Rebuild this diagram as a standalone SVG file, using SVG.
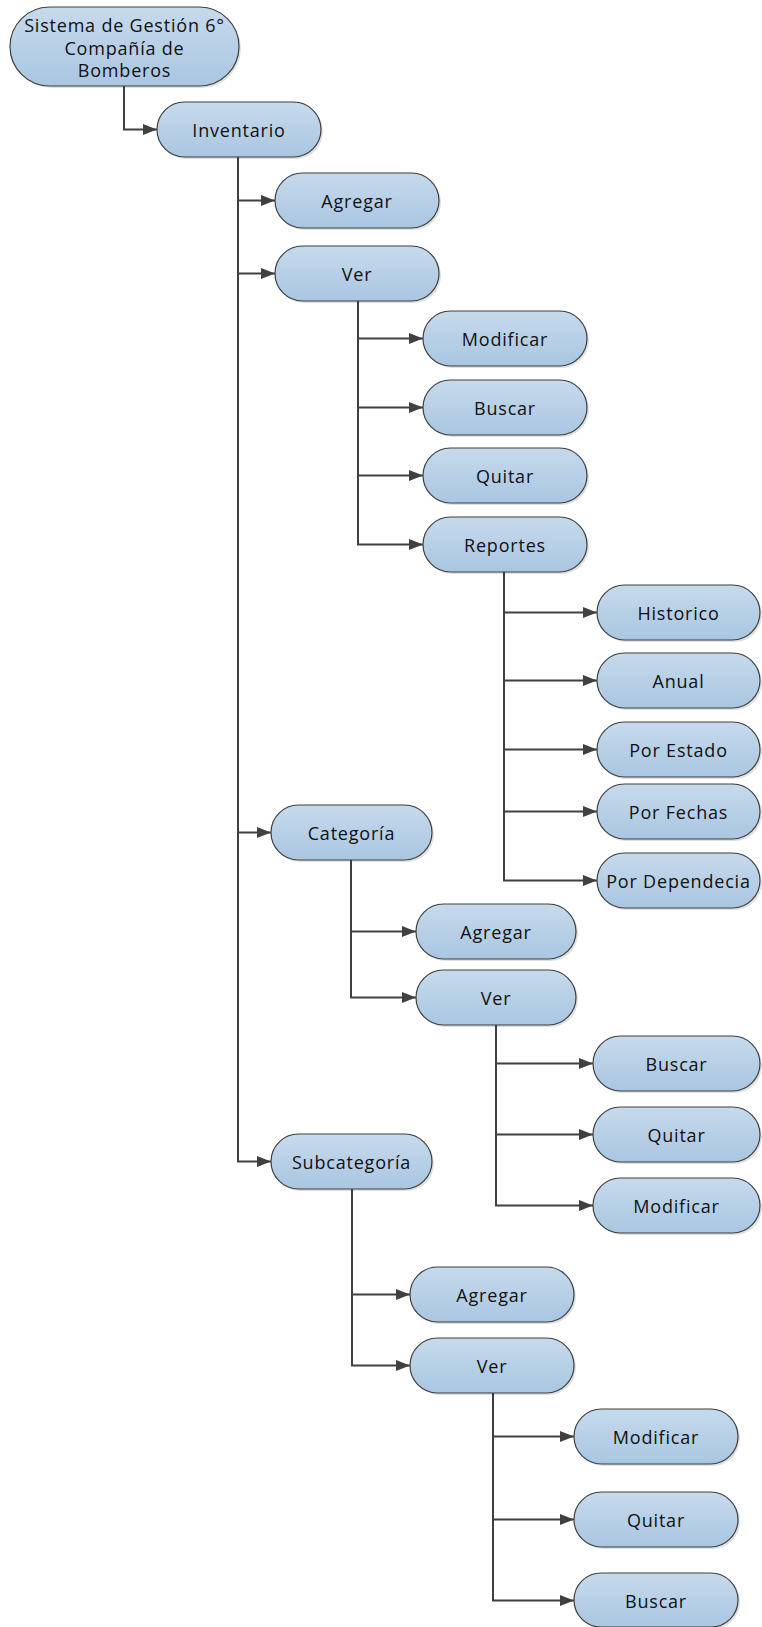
<svg xmlns="http://www.w3.org/2000/svg" width="762" height="1627" viewBox="0 0 762 1627">
<style>
.n{fill:url(#g);stroke:#3f3f3f;stroke-width:1.2}
.s{fill:#000;opacity:0.12}
.t{font-family:"Open Sans","Noto Sans","Liberation Sans",sans-serif;font-size:18px;letter-spacing:0.8px;fill:#111;text-anchor:middle;dominant-baseline:central}
.c{fill:none;stroke:#404040;stroke-width:2;marker-end:url(#a)}
</style>
<defs>
<linearGradient id="g" x1="0" y1="0" x2="0" y2="1">
<stop offset="0" stop-color="#c6daec"/>
<stop offset="1" stop-color="#a9c6e1"/>
</linearGradient>
<marker id="a" viewBox="0 0 14 11" refX="14" refY="5.5" markerWidth="14" markerHeight="11" markerUnits="userSpaceOnUse" orient="auto">
<path d="M0,0 L14,5.5 L0,11 z" fill="#404040"/>
</marker>
</defs>
<g id="connectors">
<path class="c" d="M124,86 V129.5 H157"/>
<path class="c" d="M238,157 V200.5 H275"/>
<path class="c" d="M238,157 V273.5 H275"/>
<path class="c" d="M238,157 V832.5 H271"/>
<path class="c" d="M238,157 V1161.5 H271"/>
<path class="c" d="M358,301 V338.5 H423"/>
<path class="c" d="M358,301 V407.5 H423"/>
<path class="c" d="M358,301 V475.5 H423"/>
<path class="c" d="M358,301 V544.5 H423"/>
<path class="c" d="M504,572 V612.5 H597"/>
<path class="c" d="M504,572 V680.5 H597"/>
<path class="c" d="M504,572 V749.5 H597"/>
<path class="c" d="M504,572 V811.5 H597"/>
<path class="c" d="M504,572 V880.5 H597"/>
<path class="c" d="M351,860 V931.5 H416"/>
<path class="c" d="M351,860 V997.5 H416"/>
<path class="c" d="M496,1025 V1063.5 H593"/>
<path class="c" d="M496,1025 V1134.5 H593"/>
<path class="c" d="M496,1025 V1205.5 H593"/>
<path class="c" d="M352,1189 V1294.5 H410"/>
<path class="c" d="M352,1189 V1365.5 H410"/>
<path class="c" d="M493,1393 V1436.5 H574"/>
<path class="c" d="M493,1393 V1519.5 H574"/>
<path class="c" d="M493,1393 V1600.5 H574"/>
</g>
<g id="root"><rect class="s" x="12" y="9" width="229" height="79" rx="39.5"/><rect class="n" x="10" y="7" width="229" height="79" rx="39.5"/><text class="t" x="124.5" y="25">Sistema de Gestión 6°</text><text class="t" x="124.5" y="47.5">Compañía de</text><text class="t" x="124.5" y="70">Bomberos</text></g>
<g id="inventario"><rect class="s" x="159" y="104" width="164" height="55" rx="27.5"/><rect class="n" x="157" y="102" width="164" height="55" rx="27.5"/><text class="t" x="239" y="129.5">Inventario</text></g>
<g id="inv-agregar"><rect class="s" x="277" y="175" width="164" height="55" rx="27.5"/><rect class="n" x="275" y="173" width="164" height="55" rx="27.5"/><text class="t" x="357" y="200.5">Agregar</text></g>
<g id="inv-ver"><rect class="s" x="277" y="248" width="164" height="55" rx="27.5"/><rect class="n" x="275" y="246" width="164" height="55" rx="27.5"/><text class="t" x="357" y="273.5">Ver</text></g>
<g id="inv-modificar"><rect class="s" x="425" y="313" width="164" height="55" rx="27.5"/><rect class="n" x="423" y="311" width="164" height="55" rx="27.5"/><text class="t" x="505" y="338.5">Modificar</text></g>
<g id="inv-buscar"><rect class="s" x="425" y="382" width="164" height="55" rx="27.5"/><rect class="n" x="423" y="380" width="164" height="55" rx="27.5"/><text class="t" x="505" y="407.5">Buscar</text></g>
<g id="inv-quitar"><rect class="s" x="425" y="450" width="164" height="55" rx="27.5"/><rect class="n" x="423" y="448" width="164" height="55" rx="27.5"/><text class="t" x="505" y="475.5">Quitar</text></g>
<g id="reportes"><rect class="s" x="425" y="519" width="164" height="55" rx="27.5"/><rect class="n" x="423" y="517" width="164" height="55" rx="27.5"/><text class="t" x="505" y="544.5">Reportes</text></g>
<g id="historico"><rect class="s" x="599" y="587" width="163" height="55" rx="27.5"/><rect class="n" x="597" y="585" width="163" height="55" rx="27.5"/><text class="t" x="678.5" y="612.5">Historico</text></g>
<g id="anual"><rect class="s" x="599" y="655" width="163" height="55" rx="27.5"/><rect class="n" x="597" y="653" width="163" height="55" rx="27.5"/><text class="t" x="678.5" y="680.5">Anual</text></g>
<g id="por-estado"><rect class="s" x="599" y="724" width="163" height="55" rx="27.5"/><rect class="n" x="597" y="722" width="163" height="55" rx="27.5"/><text class="t" x="678.5" y="749.5">Por Estado</text></g>
<g id="por-fechas"><rect class="s" x="599" y="786" width="163" height="55" rx="27.5"/><rect class="n" x="597" y="784" width="163" height="55" rx="27.5"/><text class="t" x="678.5" y="811.5">Por Fechas</text></g>
<g id="por-dependecia"><rect class="s" x="599" y="855" width="163" height="55" rx="27.5"/><rect class="n" x="597" y="853" width="163" height="55" rx="27.5"/><text class="t" x="678.5" y="880.5">Por Dependecia</text></g>
<g id="categoria"><rect class="s" x="273" y="807" width="161" height="55" rx="27.5"/><rect class="n" x="271" y="805" width="161" height="55" rx="27.5"/><text class="t" x="351.5" y="832.5">Categoría</text></g>
<g id="cat-agregar"><rect class="s" x="418" y="906" width="160" height="55" rx="27.5"/><rect class="n" x="416" y="904" width="160" height="55" rx="27.5"/><text class="t" x="496" y="931.5">Agregar</text></g>
<g id="cat-ver"><rect class="s" x="418" y="972" width="160" height="55" rx="27.5"/><rect class="n" x="416" y="970" width="160" height="55" rx="27.5"/><text class="t" x="496" y="997.5">Ver</text></g>
<g id="cat-buscar"><rect class="s" x="595" y="1038" width="167" height="55" rx="27.5"/><rect class="n" x="593" y="1036" width="167" height="55" rx="27.5"/><text class="t" x="676.5" y="1063.5">Buscar</text></g>
<g id="cat-quitar"><rect class="s" x="595" y="1109" width="167" height="55" rx="27.5"/><rect class="n" x="593" y="1107" width="167" height="55" rx="27.5"/><text class="t" x="676.5" y="1134.5">Quitar</text></g>
<g id="cat-modificar"><rect class="s" x="595" y="1180" width="167" height="55" rx="27.5"/><rect class="n" x="593" y="1178" width="167" height="55" rx="27.5"/><text class="t" x="676.5" y="1205.5">Modificar</text></g>
<g id="subcategoria"><rect class="s" x="273" y="1136" width="161" height="55" rx="27.5"/><rect class="n" x="271" y="1134" width="161" height="55" rx="27.5"/><text class="t" x="351.5" y="1161.5">Subcategoría</text></g>
<g id="sub-agregar"><rect class="s" x="412" y="1269" width="164" height="55" rx="27.5"/><rect class="n" x="410" y="1267" width="164" height="55" rx="27.5"/><text class="t" x="492" y="1294.5">Agregar</text></g>
<g id="sub-ver"><rect class="s" x="412" y="1340" width="164" height="55" rx="27.5"/><rect class="n" x="410" y="1338" width="164" height="55" rx="27.5"/><text class="t" x="492" y="1365.5">Ver</text></g>
<g id="sub-modificar"><rect class="s" x="576" y="1411" width="164" height="55" rx="27.5"/><rect class="n" x="574" y="1409" width="164" height="55" rx="27.5"/><text class="t" x="656" y="1436.5">Modificar</text></g>
<g id="sub-quitar"><rect class="s" x="576" y="1494" width="164" height="55" rx="27.5"/><rect class="n" x="574" y="1492" width="164" height="55" rx="27.5"/><text class="t" x="656" y="1519.5">Quitar</text></g>
<g id="sub-buscar"><rect class="s" x="576" y="1575" width="164" height="54" rx="27"/><rect class="n" x="574" y="1573" width="164" height="54" rx="27"/><text class="t" x="656" y="1600.5">Buscar</text></g>
</svg>
